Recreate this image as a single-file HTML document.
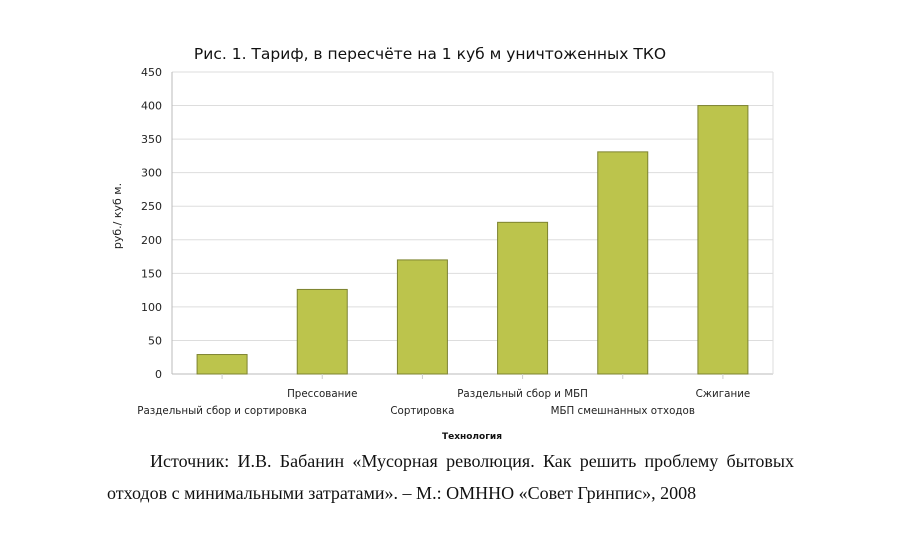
<!DOCTYPE html>
<html><head><meta charset="utf-8"><style>
body{margin:0;background:#fff;width:900px;height:538px;overflow:hidden;font-family:"DejaVu Sans","Liberation Sans",sans-serif}
.src{position:absolute;left:107px;font-family:"Liberation Serif",serif;font-size:18px;color:#111}
</style></head><body>
<svg width="900" height="538" style="position:absolute;left:0;top:0" id="c"></svg>
<div class="src" style="top:451px;left:150px;width:644px;text-align:justify;text-align-last:justify">Источник: И.В. Бабанин «Мусорная революция. Как решить проблему бытовых</div>
<div class="src" style="top:483px">отходов с минимальными затратами». – М.: ОМННО «Совет Гринпис», 2008</div>
<script>
const categories=["Раздельный сбор и сортировка","Прессование","Сортировка","Раздельный сбор и МБП","МБП смешнанных отходов","Сжигание"];
const values=[29,126,170,226,331,400];
const yTicks=[0,50,100,150,200,250,300,350,400,450];
const NS="http://www.w3.org/2000/svg";
const svg=document.getElementById('c');
const L=172,R=773,T=72,B=374,yMax=450;
const y=v=>B-(v/yMax)*(B-T);
const step=(R-L)/categories.length;
const x=i=>L+step*(i+0.5);
function mk(t,a,txt){const e=document.createElementNS(NS,t);for(const k in a)e.setAttribute(k,a[k]);if(txt!==undefined)e.textContent=txt;svg.appendChild(e);return e;}
let t=mk('text',{x:430,y:59,'text-anchor':'middle','font-size':15.5,fill:'#111'},'Рис. 1. Тариф, в пересчёте на  1 куб м уничтоженных ТКО');

yTicks.forEach(v=>{
 const g=mk('line',{x1:L,x2:R,y1:y(v),y2:y(v),stroke:v===0?'#bbb':'#ddd','stroke-width':1});
 
 const l=mk('text',{x:L-10,y:y(v)+4,'text-anchor':'end','font-size':11,fill:'#222'},v);
 
});
const ax=mk('line',{x1:L,x2:L,y1:T,y2:B,stroke:'#bbb'});

mk('line',{x1:R,x2:R,y1:T,y2:B,stroke:'#ddd'});
values.forEach((v,i)=>{
 const b=mk('rect',{x:x(i)-25,y:y(v),width:50,height:B-y(v),fill:'#bcc44c',stroke:'#7d8330','stroke-width':1});
 
 const tk=mk('line',{x1:x(i),x2:x(i),y1:B,y2:B+5,stroke:'#ccc'});
 
 const lb=mk('text',{x:x(i),y:i%2===0?B+40:B+23,'text-anchor':'middle','font-size':10.3,fill:'#222'},categories[i]);
 
});
const xt=mk('text',{x:472,y:439,'text-anchor':'middle','font-size':9,'font-weight':'bold',fill:'#111'},'Технология');

const yt=mk('text',{x:0,y:0,'text-anchor':'middle','font-size':11,fill:'#222',transform:'translate(121,216) rotate(-90)'},'руб./ куб м.');

</script>
</body></html>
